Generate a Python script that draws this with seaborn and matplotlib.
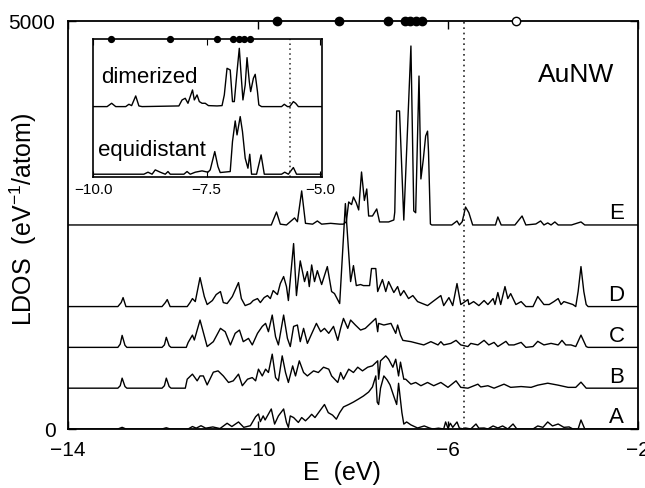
import numpy as np
import pandas as pd
import matplotlib
matplotlib.use("Agg")
import matplotlib.pyplot as plt
import seaborn as sns

sns.set_style("ticks")
plt.rcParams['font.family'] = ['Liberation Sans', 'DejaVu Sans']
plt.rcParams['mathtext.default'] = 'regular'
for key in ['text.color', 'axes.labelcolor', 'xtick.color', 'ytick.color', 'axes.edgecolor']:
    plt.rcParams[key] = 'black'

# ---- LDOS traces (E in eV, LDOS above each trace's own baseline)
e_A = [-14.0, -12.95, -12.86, -12.78, -12.02, -11.93, -11.85, -11.47, -11.38, -11.30, -11.20, -11.10,
       -10.95, -10.80, -10.65, -10.55, -10.41, -10.30, -10.16, -10.05, -9.99, -9.95, -9.89, -9.85,
       -9.72, -9.65, -9.57, -9.46, -9.40, -9.36, -9.32, -9.25, -9.15, -9.08, -9.00, -8.93, -8.87,
       -8.80, -8.70, -8.60, -8.52, -8.43, -8.35, -8.28, -8.20, -8.09, -7.99, -7.88, -7.78, -7.67,
       -7.59, -7.52, -7.49, -7.46, -7.42, -7.35, -7.28, -7.22, -7.14, -7.08, -7.04, -6.97, -6.93,
       -6.87, -6.78, -6.64, -6.50, -6.39, -6.32, -6.20, -6.09, -6.05, -6.00, -5.95, -5.90, -5.81,
       -5.76, -5.67, -5.63, -5.52, -5.41, -5.35, -5.24, -5.16, -5.05, -4.95, -4.85, -4.74, -4.63,
       -4.55, -4.21, -4.11, -4.00, -3.90, -3.80, -3.68, -3.56, -3.45, -3.37, -3.26, -3.20, -3.12, -2.0]
ldos_A = [0, 0, 20, 0, 0, 15, 0, 0, 30, 10, 40, 10,
          25, 5, 70, 30, 86, 20, 40, 150, 184, 90, 160, 110,
          245, 60, 160, 245, 80, 20, 160, 140, 80, 140, 100, 140, 180,
          140, 220, 300, 200, 170, 120, 200, 270, 300, 330, 368, 404, 453,
          515, 650, 330, 300, 500, 650, 600, 540, 400, 300, 560, 200, 60,
          86, 50, 12, 37, 12, 0, 10, 0, 86, 10, 70, 20, 86,
          10, 0, 12, 0, 61, 10, 12, 0, 37, 12, 37, 0, 61,
          0, 0, 37, 20, 86, 37, 61, 20, 25, 0, 0, 110, 0, 0]

e_B = [-14.0, -12.95, -12.90, -12.86, -12.80, -12.76, -12.02, -11.97, -11.93, -11.87, -11.83, -11.53,
       -11.49, -11.38, -11.28, -11.22, -11.15, -11.07, -10.94, -10.84, -10.73, -10.62, -10.52, -10.41,
       -10.33, -10.22, -10.12, -10.05, -9.99, -9.91, -9.84, -9.78, -9.70, -9.63, -9.57, -9.49, -9.42,
       -9.36, -9.27, -9.21, -9.13, -9.04, -8.96, -8.83, -8.73, -8.62, -8.51, -8.45, -8.32, -8.26,
       -8.20, -8.09, -7.99, -7.90, -7.80, -7.69, -7.59, -7.48, -7.46, -7.42, -7.31, -7.25, -7.16,
       -7.10, -7.04, -7.00, -6.93, -6.89, -6.78, -6.68, -6.57, -6.43, -6.30, -6.15, -6.00, -5.83,
       -5.73, -5.58, -5.37, -5.31, -5.16, -5.03, -4.82, -4.68, -4.46, -4.25, -4.11, -3.90, -3.68,
       -3.47, -3.31, -3.20, -3.09, -2.0]
ldos_B = [0, 0, 30, 123, 20, 0, 0, 30, 123, 20, 0, 0,
          110, 172, 90, 150, 150, 40, 196, 212, 150, 70, 90, 172,
          30, 110, 130, 90, 233, 150, 233, 192, 417, 130, 90, 396, 192,
          70, 273, 150, 335, 192, 150, 212, 192, 257, 233, 150, 70, 192,
          110, 233, 192, 257, 212, 257, 274, 335, 110, 335, 396, 355, 257,
          355, 150, 319, 110, 110, 49, 70, 30, 70, 30, 70, 10, 90,
          10, 0, 49, 15, 30, 0, 49, 10, 20, 10, 37, 61, 37,
          10, 10, 74, 0, 0]

e_C = [-14.0, -12.95, -12.90, -12.86, -12.80, -12.76, -12.02, -11.97, -11.93, -11.87, -11.83, -11.51,
       -11.47, -11.38, -11.34, -11.22, -11.07, -10.94, -10.79, -10.69, -10.58, -10.48, -10.39, -10.31,
       -10.20, -10.12, -10.01, -9.91, -9.84, -9.78, -9.70, -9.63, -9.57, -9.46, -9.38, -9.32, -9.25,
       -9.17, -9.11, -9.04, -8.96, -8.85, -8.77, -8.68, -8.60, -8.51, -8.41, -8.32, -8.26, -8.20,
       -8.11, -8.05, -7.95, -7.84, -7.74, -7.63, -7.52, -7.48, -7.46, -7.35, -7.20, -7.10, -7.06,
       -7.00, -6.95, -6.78, -6.64, -6.51, -6.36, -6.21, -6.15, -6.09, -5.94, -5.83, -5.73, -5.58,
       -5.52, -5.37, -5.24, -5.14, -5.03, -4.95, -4.78, -4.72, -4.61, -4.46, -4.36, -4.21, -4.11,
       -3.98, -3.83, -3.68, -3.60, -3.52, -3.41, -3.31, -3.20, -3.09, -3.05, -2.0]
ldos_C = [0, 0, 40, 147, 25, 0, 0, 30, 123, 20, 0, 0,
          60, 150, 90, 335, 10, 70, 233, 192, 30, 172, 212, 70,
          110, 30, 172, 257, 294, 192, 396, 130, 30, 396, 110, 10, 257,
          274, 70, 233, 49, 192, 294, 192, 233, 172, 257, 86, 233, 355,
          233, 335, 274, 212, 233, 294, 355, 192, 294, 274, 294, 172, 274,
          150, 86, 70, 49, 30, 70, 30, 70, 30, 49, 86, 30, 10,
          49, 30, 86, 30, 61, 10, 74, 30, 30, 61, 0, 10, 74,
          30, 49, 30, 86, 30, 30, 10, 150, 10, 0, 0]

e_D = [-14.0, -12.95, -12.88, -12.84, -12.78, -12.02, -11.95, -11.91, -11.85, -11.49, -11.43, -11.38,
       -11.32, -11.22, -11.13, -11.07, -10.96, -10.88, -10.79, -10.73, -10.65, -10.54, -10.41, -10.35,
       -10.27, -10.16, -10.10, -10.01, -9.95, -9.87, -9.80, -9.74, -9.68, -9.59, -9.53, -9.46, -9.40,
       -9.36, -9.25, -9.19, -9.11, -9.02, -8.96, -8.92, -8.87, -8.81, -8.75, -8.66, -8.54, -8.45,
       -8.39, -8.28, -8.16, -8.05, -7.99, -7.93, -7.84, -7.78, -7.65, -7.61, -7.52, -7.48, -7.38,
       -7.31, -7.25, -7.14, -7.06, -7.00, -6.93, -6.83, -6.74, -6.64, -6.43, -6.32, -6.15, -6.09,
       -5.98, -5.90, -5.81, -5.73, -5.67, -5.58, -5.56, -5.46, -5.35, -5.24, -5.16, -5.05, -5.01,
       -4.95, -4.89, -4.80, -4.74, -4.68, -4.57, -4.46, -4.36, -4.21, -4.11, -3.98, -3.87, -3.77,
       -3.68, -3.62, -3.56, -3.37, -3.31, -3.26, -3.20, -3.14, -3.09, -3.05, -2.0]
ldos_D = [0, 0, 49, 110, 0, 0, 49, 86, 0, 0, 49, 98,
          61, 355, 123, 25, 74, 147, 184, 49, 37, 123, 294, 98,
          12, 37, 74, 98, 49, 110, 135, 98, 196, 147, 282, 368, 245,
          74, 772, 135, 560, 306, 429, 245, 510, 306, 440, 270, 490, 184,
          160, 37, 1262, 306, 502, 257, 270, 257, 257, 466, 466, 184, 331,
          184, 306, 172, 245, 135, 196, 98, 135, 61, 12, 61, 135, 12,
          110, 12, 282, 25, 49, 86, 25, 61, 12, 74, 25, 98, 25,
          172, 25, 245, 98, 159, 25, 61, 0, 0, 123, 25, 25, 61,
          98, 25, 61, 25, 0, 184, 490, 184, 25, 0, 0]

e_E = [-14.0, -9.72, -9.61, -9.53, -9.40, -9.23, -9.17, -9.08, -9.00, -8.85, -8.75, -8.66,
       -8.47, -8.28, -8.20, -8.14, -8.09, -8.03, -7.99, -7.93, -7.88, -7.82, -7.76, -7.71,
       -7.67, -7.59, -7.50, -7.44, -7.25, -7.14, -7.12, -7.08, -7.02, -6.93, -6.78, -6.72,
       -6.68, -6.61, -6.57, -6.52, -6.47, -6.43, -6.41, -6.37, -6.34, -5.92, -5.81, -5.76,
       -5.70, -5.63, -5.56, -5.48, -5.00, -4.95, -4.88, -4.59, -4.44, -4.36, -4.15, -4.05,
       -3.98, -3.90, -3.83, -3.75, -3.68, -3.40, -3.20, -3.12, -2.0]
ldos_E = [0, 0, 159, 10, 0, 86, 40, 417, 20, 10, 49, 10,
          20, 10, 10, 40, 282, 250, 343, 270, 184, 649, 300, 441,
          110, 110, 196, 37, 37, 61, 159, 1397, 1397, 60, 2193, 172,
          150, 1825, 564, 800, 1090, 1150, 900, 12, 0, 0, 49, 0,
          40, 220, 150, 0, 0, 98, 0, 0, 110, 0, 12, 49,
          0, 25, 0, 37, 0, 0, 37, 0, 0]

trace_names = ['A', 'B', 'C', 'D', 'E']
trace_offsets = [0, 500, 1000, 1500, 2500]

# inset: dimerized vs equidistant chain
e_dim = [-10.0, -9.69, -9.59, -9.50, -9.28, -9.21, -9.15, -9.06, -8.99, -8.92, -8.11, -8.04,
         -7.97, -7.91, -7.86, -7.81, -7.77, -7.71, -7.66, -7.60, -7.53, -7.46, -7.27, -7.16,
         -7.11, -7.05, -6.98, -6.93, -6.89, -6.83, -6.78, -6.74, -6.70, -6.65, -6.61, -6.56,
         -6.53, -6.47, -6.43, -6.38, -6.35, -6.29, -5.85, -5.79, -5.72, -5.67, -5.59, -5.54,
         -5.48, -4.95]
ldos_dim = [0, 0, 40, 0, 0, 28, 12, 128, 8, 0, 8, 80,
            100, 40, 120, 200, 80, 140, 60, 40, 40, 12, 8, 12,
            140, 460, 440, 60, 60, 420, 700, 380, 80, 260, 588, 300,
            180, 340, 388, 180, 20, 0, 0, 28, 0, 0, 60, 40,
            0, 0]
e_eq = [-10.0, -8.88, -8.79, -8.70, -8.63, -8.52, -8.41, -8.35, -8.30, -8.00, -7.93, -7.86,
        -7.75, -7.60, -7.47, -7.42, -7.32, -7.25, -7.20, -6.98, -6.93, -6.87, -6.83, -6.76,
        -6.71, -6.65, -6.59, -6.55, -6.51, -6.40, -6.30, -6.23, -5.85, -5.78, -5.70, -5.59,
        -5.52, -4.95]
ldos_eq = [0, 0, 24, 0, 52, 24, 0, 32, 0, 0, 32, 0,
           24, 40, 24, 52, 272, 92, 20, 32, 392, 640, 472, 692,
           512, 192, 72, 240, 0, 0, 232, 0, 0, 24, 0, 80,
           0, 0]
dim_offset = 812

# discrete levels marked on the top axis
levels_filled = [-9.60, -8.30, -7.26, -6.91, -6.79, -6.67, -6.55]
levels_open = [-4.57]
e_fermi = -5.67

fig = plt.figure(figsize=(6.45, 4.89), dpi=100)
ax = fig.add_axes([0.1054, 0.1207, 0.8837, 0.8344])

for name, off in zip(trace_names, trace_offsets):
    e = globals()['e_' + name]
    v = globals()['ldos_' + name]
    df = pd.DataFrame({'E': e, 'LDOS': np.array(v, dtype=float) + off})
    sns.lineplot(data=df, x='E', y='LDOS', ax=ax, color='black', lw=1.0,
                 estimator=None, sort=False)
    ax.text(-2.45, off + 80, name, ha='center', va='baseline', fontsize=16)

ax.axvline(e_fermi, color='0.15', lw=1.2, ls=(0, (1, 2.2)))
ax.plot(levels_filled, [5000] * len(levels_filled), 'o', ms=6, color='black',
        clip_on=False, zorder=6)
ax.plot(levels_open, [5000] * len(levels_open), 'o', ms=6, mfc='white', mec='black',
        mew=1.0, clip_on=False, zorder=6)

ax.set_xlim(-14, -2)
ax.set_ylim(0, 5000)
ax.set_xticks([-14, -10, -6, -2])
ax.set_xticklabels(['\u221214', '\u221210', '\u22126', '\u22122'])
ax.set_yticks([0, 5000])
ax.set_yticklabels(['0', '5000'])
ax.tick_params(direction='in', length=6, width=1.0, labelsize=15, top=True, right=True)
ax.tick_params(axis='x', pad=8)
ax.tick_params(axis='y', pad=9)
for sp in ax.spines.values():
    sp.set_linewidth(1.3)
    sp.set_visible(True)

ax.set_xlabel('E  (eV)', fontsize=18)
ax.set_ylabel('LDOS  (eV$^{-1}$/atom)', fontsize=18)
ax.xaxis.set_label_coords(0.48, -0.075)
ax.yaxis.set_label_coords(-0.05, 0.515)

ax.text(-4.11, 4267, 'AuNW', ha='left', va='baseline', fontsize=19)

# ---- inset
ins = fig.add_axes([0.1442, 0.6366, 0.3550, 0.2816])
ins.set_facecolor('white')
df_eq = pd.DataFrame({'E': e_eq, 'LDOS': ldos_eq})
df_dim = pd.DataFrame({'E': e_dim, 'LDOS': np.array(ldos_dim, dtype=float) + dim_offset})
sns.lineplot(data=df_eq, x='E', y='LDOS', ax=ins, color='black', lw=1.0, estimator=None, sort=False)
sns.lineplot(data=df_dim, x='E', y='LDOS', ax=ins, color='black', lw=1.0, estimator=None, sort=False)
ins.axvline(e_fermi, color='0.15', lw=1.1, ls=(0, (1, 2.2)))
ins.plot(levels_filled, [1624] * len(levels_filled), 'o', ms=4.2, color='black',
         clip_on=False, zorder=6)
ins.set_xlim(-9.98, -4.96)
ins.set_ylim(-30, 1624)
ins.set_xticks([-10, -7.5, -5])
ins.set_xticklabels(['\u221210.0', '\u22127.5', '\u22125.0'])
ins.set_yticks([])
ins.set_xlabel('')
ins.set_ylabel('')
ins.tick_params(direction='in', length=4, labelsize=11, top=True, pad=4)
for sp in ins.spines.values():
    sp.set_linewidth(1.2)
    sp.set_visible(True)
ins.text(-9.83, dim_offset + 294, 'dimerized', ha='left', va='baseline', fontsize=16)
ins.text(-9.88, 230, 'equidistant', ha='left', va='baseline', fontsize=16)

fig.savefig('out.png', dpi=100)
